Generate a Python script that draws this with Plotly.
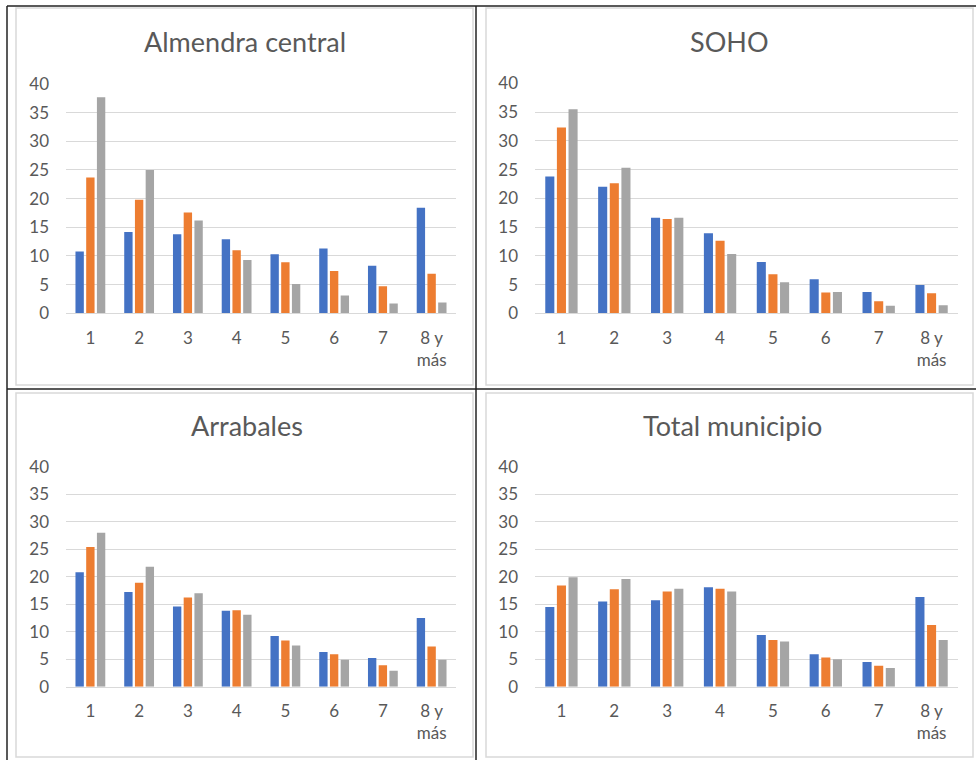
import plotly.graph_objects as go

categories = ["1", "2", "3", "4", "5", "6", "7", "8 y<br>más"]
series_names = ["Serie 1", "Serie 2", "Serie 3"]

almendra_s1 = [10.8, 14.2, 13.8, 12.9, 10.3, 11.3, 8.3, 18.4]
almendra_s2 = [23.7, 19.8, 17.6, 11.0, 8.9, 7.4, 4.7, 6.9]
almendra_s3 = [37.7, 25.0, 16.2, 9.3, 5.1, 3.1, 1.7, 1.9]

soho_s1 = [23.8, 22.0, 16.6, 13.9, 8.9, 5.9, 3.7, 4.9]
soho_s2 = [32.3, 22.6, 16.4, 12.6, 6.8, 3.6, 2.1, 3.5]
soho_s3 = [35.5, 25.3, 16.6, 10.3, 5.4, 3.7, 1.3, 1.4]

arrabales_s1 = [20.8, 17.2, 14.6, 13.8, 9.2, 6.3, 5.2, 12.5]
arrabales_s2 = [25.4, 18.9, 16.2, 13.9, 8.4, 5.9, 3.9, 7.3]
arrabales_s3 = [28.0, 21.8, 17.0, 13.1, 7.5, 4.9, 2.9, 4.9]

total_s1 = [14.5, 15.5, 15.7, 18.1, 9.4, 5.9, 4.5, 16.3]
total_s2 = [18.4, 17.7, 17.3, 17.8, 8.5, 5.3, 3.8, 11.2]
total_s3 = [19.9, 19.6, 17.8, 17.3, 8.2, 5.0, 3.4, 8.5]

titles = ["Almendra central", "SOHO", "Arrabales", "Total municipio"]
y_ticks = [0, 5, 10, 15, 20, 25, 30, 35, 40]

colors = ["#4472C4", "#ED7D31", "#A5A5A5"]
W, H = 976, 760

def px_x(x):
    return x / W

def px_y(y):
    return 1 - y / H

panels = [
    (almendra_s1, almendra_s2, almendra_s3),
    (soho_s1, soho_s2, soho_s3),
    (arrabales_s1, arrabales_s2, arrabales_s3),
    (total_s1, total_s2, total_s3),
]

# plot area pixel boxes: (x0, x1, ytop(40), ybottom(0))
boxes = [
    (66, 456, 84, 313.3),
    (535, 958, 83.3, 313.3),
    (66, 456, 466.7, 686.7),
    (535, 958, 466.7, 686.7),
]
title_pos = [(245, 42), (729.5, 42), (247, 425), (732, 425)]

fig = go.Figure()
font_family = "Lato, Carlito, Calibri, 'Open Sans', sans-serif"

for i, (data, box) in enumerate(zip(panels, boxes)):
    ax = "" if i == 0 else str(i + 1)
    for s, vals in enumerate(data):
        fig.add_trace(go.Bar(
            x=categories, y=vals, name=series_names[s],
            marker=dict(color=colors[s], line=dict(width=0)),
            xaxis="x" + ax, yaxis="y" + ax, showlegend=False,
            offsetgroup=str(s),
        ))
    x0, x1, yt, yb = box
    fig.layout["xaxis" + ax] = dict(
        domain=[px_x(x0), px_x(x1)], anchor="y" + ax,
        showgrid=False, showline=True, linecolor="#D9D9D9", linewidth=1,
        ticks="", tickfont=dict(family=font_family, size=17, color="#595959"),
        ticklabelstandoff=9, fixedrange=True, automargin=False,
    )
    fig.layout["yaxis" + ax] = dict(
        domain=[px_y(yb), px_y(yt)], anchor="x" + ax,
        range=[0, 40], tickvals=y_ticks,
        showgrid=True, gridcolor="#D9D9D9", gridwidth=1,
        zeroline=False, showline=False, ticks="",
        tickfont=dict(family=font_family, size=17, color="#595959"),
        ticklabelstandoff=16, fixedrange=True, automargin=False,
    )
    tx, ty = title_pos[i]
    fig.add_annotation(
        text=titles[i], x=px_x(tx), y=px_y(ty), xref="paper", yref="paper",
        showarrow=False, xanchor="center", yanchor="middle",
        font=dict(family=font_family, size=27, color="#595959"),
    )

# inner light gray chart borders
inner = [(16, 473, 8, 385), (486, 973, 8, 385), (16, 473, 393, 757), (486, 973, 393, 757)]
for (a, b, c, d) in inner:
    fig.add_shape(type="rect", xref="paper", yref="paper",
                  x0=px_x(a), x1=px_x(b), y0=px_y(d), y1=px_y(c),
                  line=dict(color="#D9D9D9", width=1.5), layer="below")

# black table lines
black = [
    (7, 6, 976, 6),
    (7, 6, 7, 760),
    (476, 6, 476, 760),
    (7, 389, 976, 389),
]
for (a, b, c, d) in black:
    fig.add_shape(type="line", xref="paper", yref="paper",
                  x0=px_x(a), y0=px_y(b), x1=px_x(c), y1=px_y(d),
                  line=dict(color="#222222", width=1.5))

fig.update_layout(
    width=W, height=H,
    margin=dict(l=0, r=0, t=0, b=0, pad=0, autoexpand=False),
    barmode="group", bargap=0.34, bargroupgap=0.22,
    paper_bgcolor="white", plot_bgcolor="white",
    font=dict(family=font_family),
)

fig.write_html(
    "out.html",
    config={"displayModeBar": False},
    post_script=(
        "document.documentElement.style.margin='0';"
        "document.body.style.margin='0';document.body.style.padding='0';"
        "document.body.style.overflow='hidden';"
        "var d=document.getElementById('{plot_id}');"
        "d.style.position='fixed';d.style.top='0px';d.style.left='0px';"
    ),
)
